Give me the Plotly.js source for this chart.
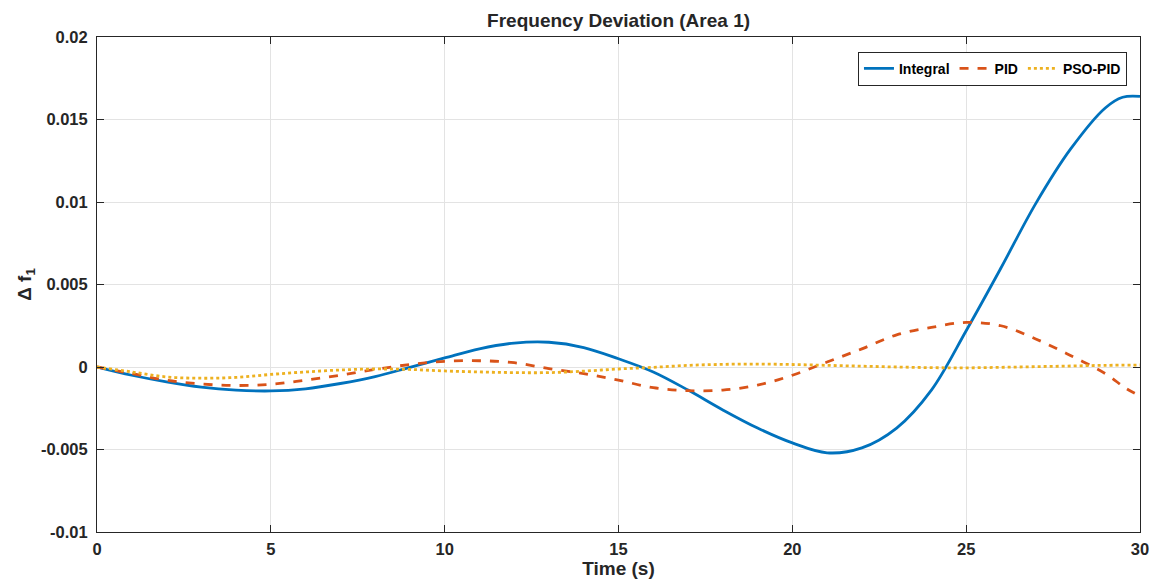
<!DOCTYPE html>
<html>
<head>
<meta charset="utf-8">
<script src="https://cdn.plot.ly/plotly-3.0.1.min.js"></script>
<style>html,body{margin:0;padding:0;background:#fff;}#chart{width:1156px;height:588px;}</style>
</head>
<body>
<div id="chart"></div>
<script>
const timeIntegral = [0,1,2,3,4,5,6,7,8,9,10,11,12,13,14,15,16,17,18,19,20,21,22,23,24,25,26,27,28,29,29.5,30];
const integral = [0,-0.0005,-0.0009,-0.00122,-0.0014,-0.00145,-0.00132,-0.001,-0.00058,-0.00002,0.00055,0.0011,0.00145,0.0015,0.00118,0.0005,-0.0003,-0.0014,-0.0026,-0.0037,-0.0046,-0.0052,-0.0049,-0.0037,-0.0014,0.0022,0.0060,0.0099,0.0132,0.0157,0.01635,0.0164];

const timePID = [0,1,2,3,4,5,6,7,8,9,10,11,12,13,14,15,16,17,18,19,20,21,22,23,24,25,26,27,28,29,29.6,30];
const pid = [0,-0.0004,-0.0008,-0.00103,-0.00112,-0.00105,-0.0008,-0.0005,-0.00015,0.00015,0.00034,0.00038,0.00026,-0.0001,-0.0004,-0.0008,-0.00125,-0.00143,-0.0014,-0.0011,-0.0005,0.0003,0.0011,0.00195,0.0024,0.0027,0.0025,0.0017,0.0007,-0.0004,-0.0013,-0.00176];

const timePSO = [0,1,2,3,4,5,6,7,8,9,10,11,12,13,14,15,16,17,18,19,20,21,22,23,24,25,26,27,28,29,30];
const psoPid = [0,-0.0003,-0.0006,-0.00068,-0.00063,-0.00045,-0.0003,-0.00018,-0.00012,-0.00015,-0.00024,-0.0003,-0.00034,-0.00034,-0.00025,-0.00012,-0.00002,0.0001,0.00016,0.00018,0.00015,0.0001,0.00005,0,-0.00004,-0.00005,-0.00002,0.00002,0.00006,0.0001,0.00012];

const xTicks = [0,5,10,15,20,25,30];
const yTicks = [0.02,0.015,0.01,0.005,0,-0.005,-0.01];
const yTickLabels = ['0.02','0.015','0.01','0.005','0','-0.005','-0.01'];

const seriesNames = ['Integral','PID','PSO-PID'];

const fam = 'Liberation Sans, Arial, sans-serif';
const tickFont = {family:fam, color:'#262626', size:16.5, weight:'bold'};
const titleFont = {family:fam, color:'#262626', size:19, weight:'bold'};

const traces = [
  {x: timeIntegral, y: integral, name: seriesNames[0], mode:'lines', line:{color:'#0072BD', width:2.8, shape:'spline', smoothing:1}},
  {x: timePID, y: pid, name: seriesNames[1], mode:'lines', line:{color:'#D95319', width:2.8, dash:'dash', shape:'spline', smoothing:1}},
  {x: timePSO, y: psoPid, name: seriesNames[2], mode:'lines', line:{color:'#EDB120', width:2.8, dash:'dot', shape:'spline', smoothing:1}}
];

const axisCommon = {
  showgrid:true, gridcolor:'#e3e3e3', gridwidth:1,
  zeroline:false, showline:true, linecolor:'#262626', linewidth:1,
  mirror:'ticks', ticks:'inside', ticklen:7, tickcolor:'#262626',
  tickfont: tickFont
};

const layout = {
  width:1156, height:588,
  margin:{l:97, r:16, t:37, b:56},
  paper_bgcolor:'#fff', plot_bgcolor:'#fff',
  title:{text:'Frequency Deviation (Area 1)', x:0.5351, xref:'container', xanchor:'center', y:0.966, yref:'container', yanchor:'middle', font:titleFont},
  xaxis: Object.assign({}, axisCommon, {range:[0,30], tickvals:xTicks, ticktext:xTicks.map(String), ticklabelstandoff:2, title:{text:'Time (s)', standoff:4, font:titleFont}}),
  yaxis: Object.assign({}, axisCommon, {range:[-0.01,0.02], tickvals:yTicks, ticktext:yTickLabels, ticklabelstandoff:5, title:{text:'Δ f<sub>1</sub>', standoff:4, font:titleFont}}),
  showlegend:true,
  legend:{orientation:'h', x:0.9875, xanchor:'right', y:0.97, yanchor:'top', bgcolor:'#fff', bordercolor:'#262626', borderwidth:1, font:{family:fam, color:'#000', size:14, weight:'bold'}, itemwidth:30, tracegroupgap:0}
};

Plotly.newPlot('chart', traces, layout, {displayModeBar:false, staticPlot:true});
</script>
</body>
</html>
